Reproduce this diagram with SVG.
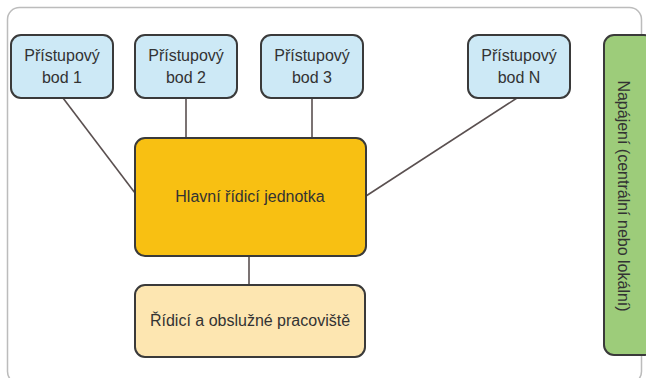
<svg xmlns="http://www.w3.org/2000/svg" width="646" height="378" viewBox="0 0 646 378">
<style>
.node{stroke:#3a3a3a;stroke-width:2}
.ap{fill:#cde9f6}
.t{font-family:"Liberation Sans",Arial,sans-serif;font-size:16px;fill:#333;text-anchor:middle}
.c{stroke:#5a5050;stroke-width:1.6;fill:none}
</style>
<rect x="7.5" y="7.5" width="634" height="376" rx="12" fill="#fff" stroke="#bcbcbc" stroke-width="1.5"/>
<g id="connectors">
<line class="c" x1="63" y1="98" x2="135" y2="193"/>
<line class="c" x1="186" y1="98" x2="186" y2="138"/>
<line class="c" x1="312" y1="98" x2="312" y2="138"/>
<line class="c" x1="517" y1="98" x2="366" y2="196"/>
<line class="c" x1="249" y1="256" x2="249" y2="285"/>
</g>
<g id="ap1"><rect class="node ap" x="11" y="35" width="102" height="63" rx="10"/><text class="t" x="62" y="61">Přístupový</text><text class="t" x="62" y="83">bod 1</text></g>
<g id="ap2"><rect class="node ap" x="135" y="35" width="102" height="63" rx="10"/><text class="t" x="186" y="61">Přístupový</text><text class="t" x="186" y="83">bod 2</text></g>
<g id="ap3"><rect class="node ap" x="261" y="35" width="102" height="63" rx="10"/><text class="t" x="312" y="61">Přístupový</text><text class="t" x="312" y="83">bod 3</text></g>
<g id="apN"><rect class="node ap" x="468" y="35" width="102" height="63" rx="10"/><text class="t" x="519" y="61">Přístupový</text><text class="t" x="519" y="83">bod N</text></g>
<g id="main"><rect class="node" x="135" y="138" width="231" height="118" rx="10" fill="#f8c012"/><text class="t" x="250" y="202">Hlavní řídicí jednotka</text></g>
<g id="station"><rect class="node" x="135" y="285" width="230" height="72" rx="10" fill="#fde6b1"/><text class="t" x="250" y="326">Řídicí a obslužné pracoviště</text></g>
<g id="power"><rect class="node" x="604" y="35" width="50" height="320" rx="10" fill="#9dcc7a"/><text class="t" transform="translate(618,196) rotate(90)">Napájení (centrální nebo lokální)</text></g>
</svg>
